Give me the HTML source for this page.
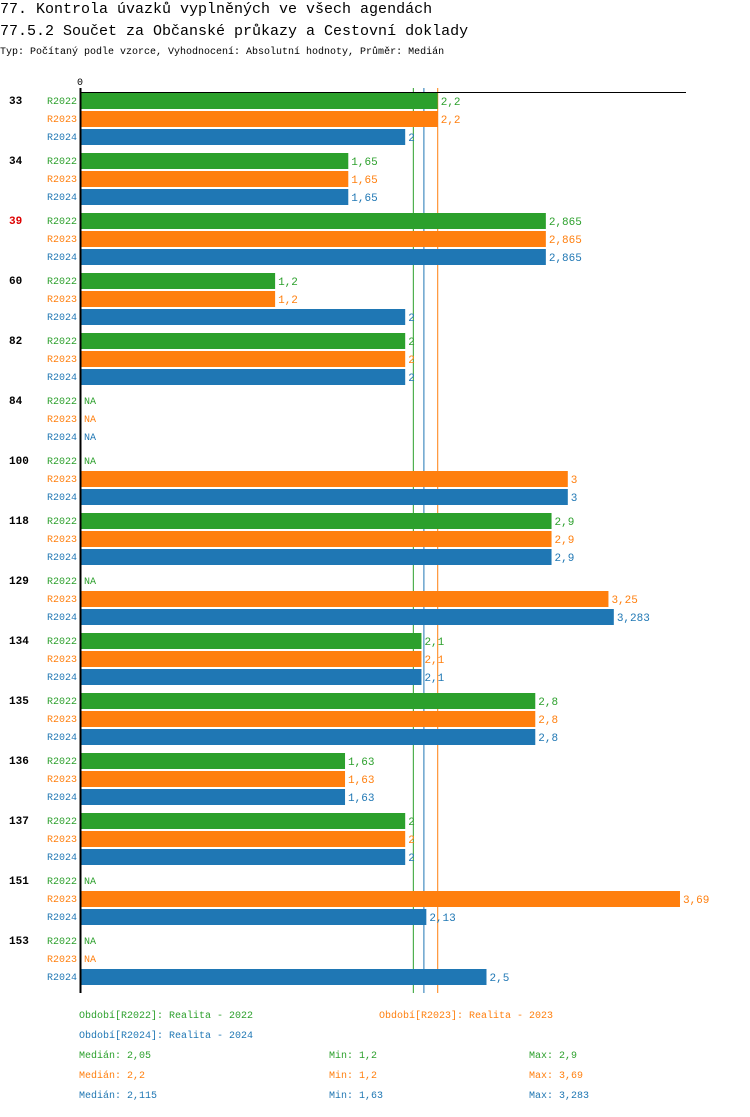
<!DOCTYPE html>
<html><head><meta charset="utf-8"><style>
body{margin:0;background:#fff;width:750px;height:1112px;overflow:hidden}
svg{font-family:"Liberation Mono","DejaVu Sans Mono",monospace}
</style></head><body>
<svg id="c" width="750" height="1112">
<text x="0" y="13" font-size="15">77. Kontrola úvazků vyplněných ve všech agendách</text>
<text x="0" y="35" font-size="15">77.5.2 Součet za Občanské průkazy a Cestovní doklady</text>
<text x="0" y="54" font-size="10">Typ: Počítaný podle vzorce, Vyhodnocení: Absolutní hodnoty, Průměr: Medián</text>
<text x="77" y="85" font-size="10">0</text>
</svg>
<script>
const categories=["33","34","39","60","82","84","100","118","129","134","135","136","137","151","153"];
const seriesNames=["R2022","R2023","R2024"];
const r2022=[2.2,1.65,2.865,1.2,2,null,null,2.9,null,2.1,2.8,1.63,2,null,null];
const r2023=[2.2,1.65,2.865,1.2,2,null,3,2.9,3.25,2.1,2.8,1.63,2,3.69,null];
const r2024=[2,1.65,2.865,2,2,null,3,2.9,3.283,2.1,2.8,1.63,2,2.13,2.5];
const medians=[2.05,2.2,2.115];
const mins=[1.2,1.2,1.63];
const maxs=[2.9,3.69,3.283];
const colors=["#2ca02c","#ff7f0e","#1f77b4"];
const svg=document.getElementById('c');const NS="http://www.w3.org/2000/svg";
const x=v=>80+v*162.6;
const fmt=v=>String(v).replace('.',',');
function el(t,a,txt){const e=document.createElementNS(NS,t);for(const k in a)e.setAttribute(k,a[k]);if(txt!=null)e.textContent=txt;svg.appendChild(e);return e;}
const data=[r2022,r2023,r2024];
medians.forEach((m,j)=>{const l=el('line',{x1:x(m),x2:x(m),y1:88,y2:993,stroke:colors[j],'stroke-width':1});
 
 });
categories.forEach((c,i)=>{
 const gy=92+i*60;
 const t=el('text',{x:9,y:gy+12,'font-size':11,'font-weight':'bold',fill:c==="39"?"#d00":"#000"},c);
 
 
 data.forEach((s,j)=>{
  const y=gy+1+j*18,v=s[i];
  const l=el('text',{x:47,y:y+11,'font-size':10,fill:colors[j]},seriesNames[j]);
  
  
  if(v==null){const n=el('text',{x:84,y:y+11,'font-size':10,fill:colors[j]},'NA');
   
   return;}
  const r=el('rect',{x:80,y:y,width:x(v)-80,height:16,fill:colors[j]});
  
  
  const vl=el('text',{x:x(v)+3,y:y+12,'font-size':11,fill:colors[j]},fmt(v));
  
  
 });
});
const topLine=el('line',{x1:80,x2:686,y1:92.5,y2:92.5,stroke:'#000','stroke-width':1});


const ax=el('line',{x1:80.5,x2:80.5,y1:88,y2:993,stroke:'#000','stroke-width':2});


const leg=[[79,1018,0,"Období[R2022]: Realita - 2022"],[379,1018,1,"Období[R2023]: Realita - 2023"],[79,1038,2,"Období[R2024]: Realita - 2024"]];
leg.forEach(a=>{const t=el('text',{x:a[0],y:a[1],'font-size':10,fill:colors[a[2]]},a[3]);
 
 });
[0,1,2].forEach(j=>{const y=1058+j*20;
 const a=el('text',{x:79,y:y,'font-size':10,fill:colors[j]},'Medián: '+fmt(medians[j]));
 
 
 const b=el('text',{x:329,y:y,'font-size':10,fill:colors[j]},'Min: '+fmt(mins[j]));
 
 
 const c=el('text',{x:529,y:y,'font-size':10,fill:colors[j]},'Max: '+fmt(maxs[j]));
 
 
});
</script>
</body></html>
